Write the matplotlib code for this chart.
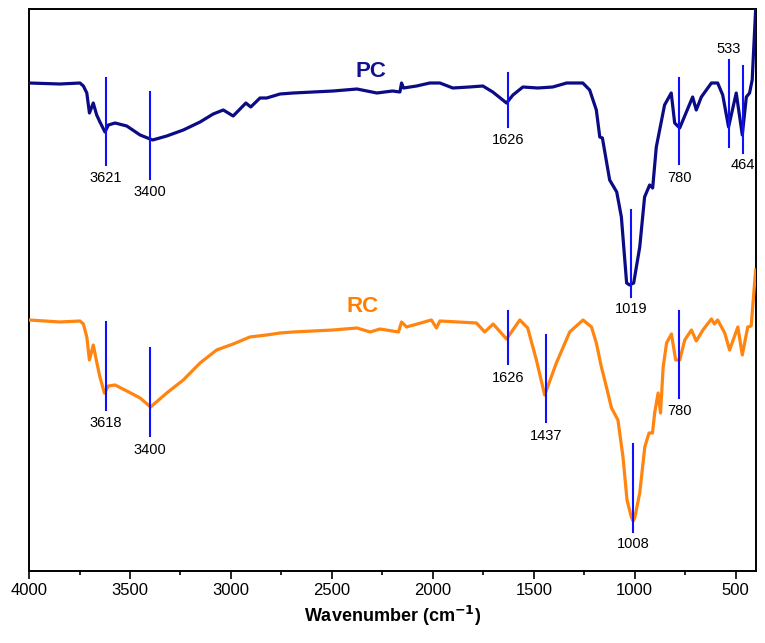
import numpy as np
import matplotlib
matplotlib.use('Agg')
import matplotlib.pyplot as plt
from matplotlib.ticker import MultipleLocator

plt.rcParams['font.family'] = ['Liberation Sans', 'DejaVu Sans']

# FTIR spectra, transmittance in arbitrary units (offset for display)
pc_wn = [4000, 3847, 3748, 3731, 3714, 3701, 3682, 3665, 3649, 3624, 3607, 3574,
         3516, 3450, 3388, 3318, 3236, 3153, 3088, 3038, 2989, 2955, 2926, 2902,
         2856, 2823, 2757, 2692, 2494, 2376, 2277, 2200, 2163, 2155, 2145, 2080,
         2015, 1965, 1901, 1820, 1752, 1703, 1635, 1603, 1554, 1480, 1406, 1337,
         1257, 1223, 1190, 1173, 1160, 1124, 1089, 1066, 1040, 1025, 1005, 975,
         951, 926, 911, 893, 852, 819, 802, 777, 744, 713, 695, 670, 620, 589,
         564, 535, 497, 467, 447, 431, 418, 401]
pc_t = [488, 487, 488, 485, 478, 458, 468, 456, 449, 439, 446, 448,
        445, 436, 431, 435, 441, 449, 457, 461, 455, 462, 468, 464,
        473, 473, 477, 478, 480, 482, 478, 480, 479, 488, 483, 485,
        488, 488, 483, 484, 485, 479, 468, 476, 484, 483, 484, 488,
        488, 481, 461, 434, 433, 391, 379, 354, 288, 286, 288, 324,
        374, 386, 383, 424, 466, 478, 448, 443, 459, 474, 461, 474, 488, 488,
        476, 444, 478, 436, 474, 478, 491, 561]

rc_wn = [4000, 3847, 3748, 3731, 3714, 3701, 3682, 3665, 3649, 3627, 3607, 3574,
         3516, 3450, 3398, 3318, 3236, 3153, 3071, 2989, 2906, 2823, 2757, 2692,
         2494, 2376, 2310, 2262, 2170, 2155, 2130, 2007, 1982, 1965, 1784, 1743,
         1701, 1635, 1569, 1530, 1487, 1446, 1388, 1322, 1256, 1214, 1190, 1165,
         1140, 1115, 1083, 1058, 1038, 1017, 1008, 1000, 975, 950, 929, 912, 901,
         884, 872, 859, 842, 818, 797, 777, 752, 719, 695, 662, 620, 605, 589,
         554, 530, 489, 467, 440, 423, 401]
rc_t = [251, 249, 250, 247, 234, 211, 226, 209, 194, 178, 185, 186,
        180, 173, 164, 178, 191, 208, 221, 227, 234, 236, 238, 239,
        241, 243, 239, 242, 239, 249, 244, 251, 243, 250, 248, 239,
        247, 232, 251, 243, 211, 176, 208, 239, 251, 244, 228, 204,
        184, 163, 151, 114, 71, 54, 50, 53, 78, 124, 138, 138, 158,
        178, 158, 204, 228, 237, 211, 211, 231, 241, 230, 241, 252, 247, 251,
        238, 221, 244, 216, 244, 245, 301]

pc_peaks = [3621, 3400, 1626, 1019, 780, 533, 464]
rc_peaks = [3618, 3400, 1626, 1437, 1008, 780]

# marker line extents (bottom, top) and label centre height
pc_marks = [(406, 493, 393), (392, 479, 379), (444, 498, 431), (274, 361, 262),
            (407, 493, 393), (424, 511, 522), (418, 505, 406)]
rc_marks = [(161, 249, 148), (135, 223, 121), (207, 260, 193), (149, 236, 135),
            (39, 127, 27), (173, 260, 160)]

fig = plt.figure(figsize=(7.65, 6.43), dpi=100)
ax = fig.add_axes([0.038, 0.112, 0.950, 0.874])

ax.plot(pc_wn, pc_t, color='#0b0b85', lw=2.3, zorder=3)
ax.plot(rc_wn, rc_t, color='#ff8410', lw=2.3, zorder=3)

for wn, (y0, y1, yl) in zip(pc_peaks, pc_marks):
    ax.plot([wn, wn], [y0, y1], color='#1010ff', lw=1.5, zorder=4)
    ax.text(wn, yl, str(wn), ha='center', va='center', fontsize=10.5)
for wn, (y0, y1, yl) in zip(rc_peaks, rc_marks):
    ax.plot([wn, wn], [y0, y1], color='#1010ff', lw=1.5, zorder=4)
    ax.text(wn, yl, str(wn), ha='center', va='center', fontsize=10.5)

ax.text(2307, 500, 'PC', color='#12128f', fontsize=16, fontweight='bold',
        ha='center', va='center')
ax.text(2347, 264, 'RC', color='#ff7f00', fontsize=16, fontweight='bold',
        ha='center', va='center')

ax.set_xlim(4000, 400)
ax.set_ylim(0, 562)
ax.xaxis.set_major_locator(MultipleLocator(500))
ax.xaxis.set_minor_locator(MultipleLocator(250))
ax.tick_params(axis='x', which='major', direction='out', length=6, width=1.2,
               labelsize=12, pad=3)
ax.tick_params(axis='x', which='minor', direction='out', length=3, width=1.2)
ax.set_yticks([])
for s in ax.spines.values():
    s.set_linewidth(1.4)

ax.set_xlabel('Wavenumber (cm$^{\\mathbf{-1}}$)', fontsize=13, fontweight='bold',
              labelpad=4)

fig.savefig('out.png', dpi=100)
